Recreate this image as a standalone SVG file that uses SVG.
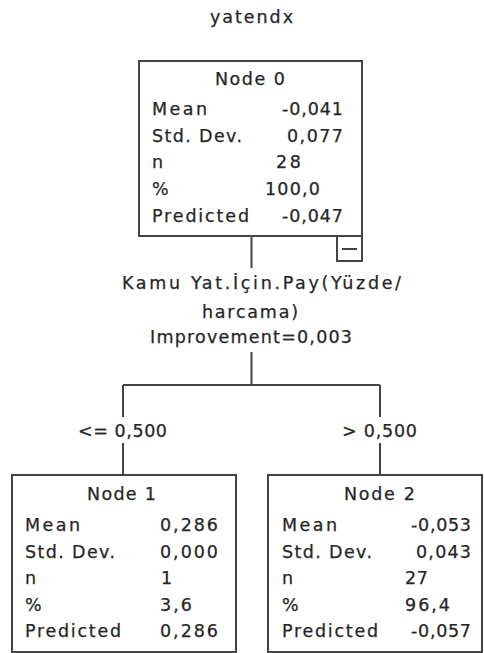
<svg xmlns="http://www.w3.org/2000/svg" width="484" height="653" viewBox="0 0 484 653">
<style>
text{font-family:"DejaVu Sans","Liberation Sans",sans-serif;font-size:17.5px;fill:#262626;stroke:#262626;stroke-width:0.25}
.box{fill:#fff;stroke:#444;stroke-width:2}
.ln{stroke:#444;stroke-width:2;fill:none}
</style>
<rect width="484" height="653" fill="#fff"/>
<text x="210" y="23" textLength="83" lengthAdjust="spacing">yatendx</text>
<g id="connectors">
<path class="ln" d="M251.5 237V268M251.5 352V385M123 385H380M123 385V417M123 443V475M380 385V417M380 443V475"/>
<text x="122" y="289" textLength="279" lengthAdjust="spacing">Kamu Yat.İçin.Pay(Yüzde/</text>
<text x="202" y="318" textLength="96" lengthAdjust="spacing">harcama)</text>
<text x="150" y="342.5" textLength="202" lengthAdjust="spacing">Improvement=0,003</text>
<text x="78" y="437" textLength="89" lengthAdjust="spacing">&lt;= 0,500</text>
<text x="342" y="437" textLength="75" lengthAdjust="spacing">&gt; 0,500</text>
</g>
<g id="node0">
<rect class="box" x="139" y="61" width="223" height="175"/>
<rect class="box" x="337" y="236" width="25" height="25"/>
<path class="ln" d="M342 249H357"/>
<text x="215" y="85" textLength="70" lengthAdjust="spacing">Node 0</text>
<text x="152" y="115" textLength="55" lengthAdjust="spacing">Mean</text>
<text x="152" y="141.7" textLength="90" lengthAdjust="spacing">Std. Dev.</text>
<text x="152" y="168.3">n</text>
<text x="152" y="195">%</text>
<text x="152" y="221.7" textLength="97" lengthAdjust="spacing">Predicted</text>
<text x="282" y="115" textLength="61" lengthAdjust="spacing">-0,041</text>
<text x="287" y="141.7" textLength="56" lengthAdjust="spacing">0,077</text>
<text x="276" y="168.3" textLength="25" lengthAdjust="spacing">28</text>
<text x="265" y="195" textLength="55" lengthAdjust="spacing">100,0</text>
<text x="282" y="221.7" textLength="61" lengthAdjust="spacing">-0,047</text>
</g>
<g id="node1">
<rect class="box" x="12" y="475" width="224" height="177"/>
<text x="87" y="500" textLength="69" lengthAdjust="spacing">Node 1</text>
<text x="25" y="531" textLength="55" lengthAdjust="spacing">Mean</text>
<text x="25" y="557.5" textLength="90" lengthAdjust="spacing">Std. Dev.</text>
<text x="25" y="584">n</text>
<text x="25" y="610.5">%</text>
<text x="25" y="637" textLength="96" lengthAdjust="spacing">Predicted</text>
<text x="160" y="531" textLength="58" lengthAdjust="spacing">0,286</text>
<text x="160" y="557.5" textLength="58" lengthAdjust="spacing">0,000</text>
<text x="161" y="584">1</text>
<text x="160" y="610.5" textLength="32" lengthAdjust="spacing">3,6</text>
<text x="160" y="637" textLength="58" lengthAdjust="spacing">0,286</text>
</g>
<g id="node2">
<rect class="box" x="268" y="475" width="214" height="177"/>
<text x="344" y="500" textLength="71" lengthAdjust="spacing">Node 2</text>
<text x="282" y="531" textLength="55" lengthAdjust="spacing">Mean</text>
<text x="282" y="557.5" textLength="90" lengthAdjust="spacing">Std. Dev.</text>
<text x="282" y="584">n</text>
<text x="282" y="610.5">%</text>
<text x="282" y="637" textLength="96" lengthAdjust="spacing">Predicted</text>
<text x="411" y="531" textLength="60" lengthAdjust="spacing">-0,053</text>
<text x="416" y="557.5" textLength="55" lengthAdjust="spacing">0,043</text>
<text x="405" y="584" textLength="23" lengthAdjust="spacing">27</text>
<text x="405" y="610.5" textLength="45" lengthAdjust="spacing">96,4</text>
<text x="411" y="637" textLength="60" lengthAdjust="spacing">-0,057</text>
</g>
</svg>
